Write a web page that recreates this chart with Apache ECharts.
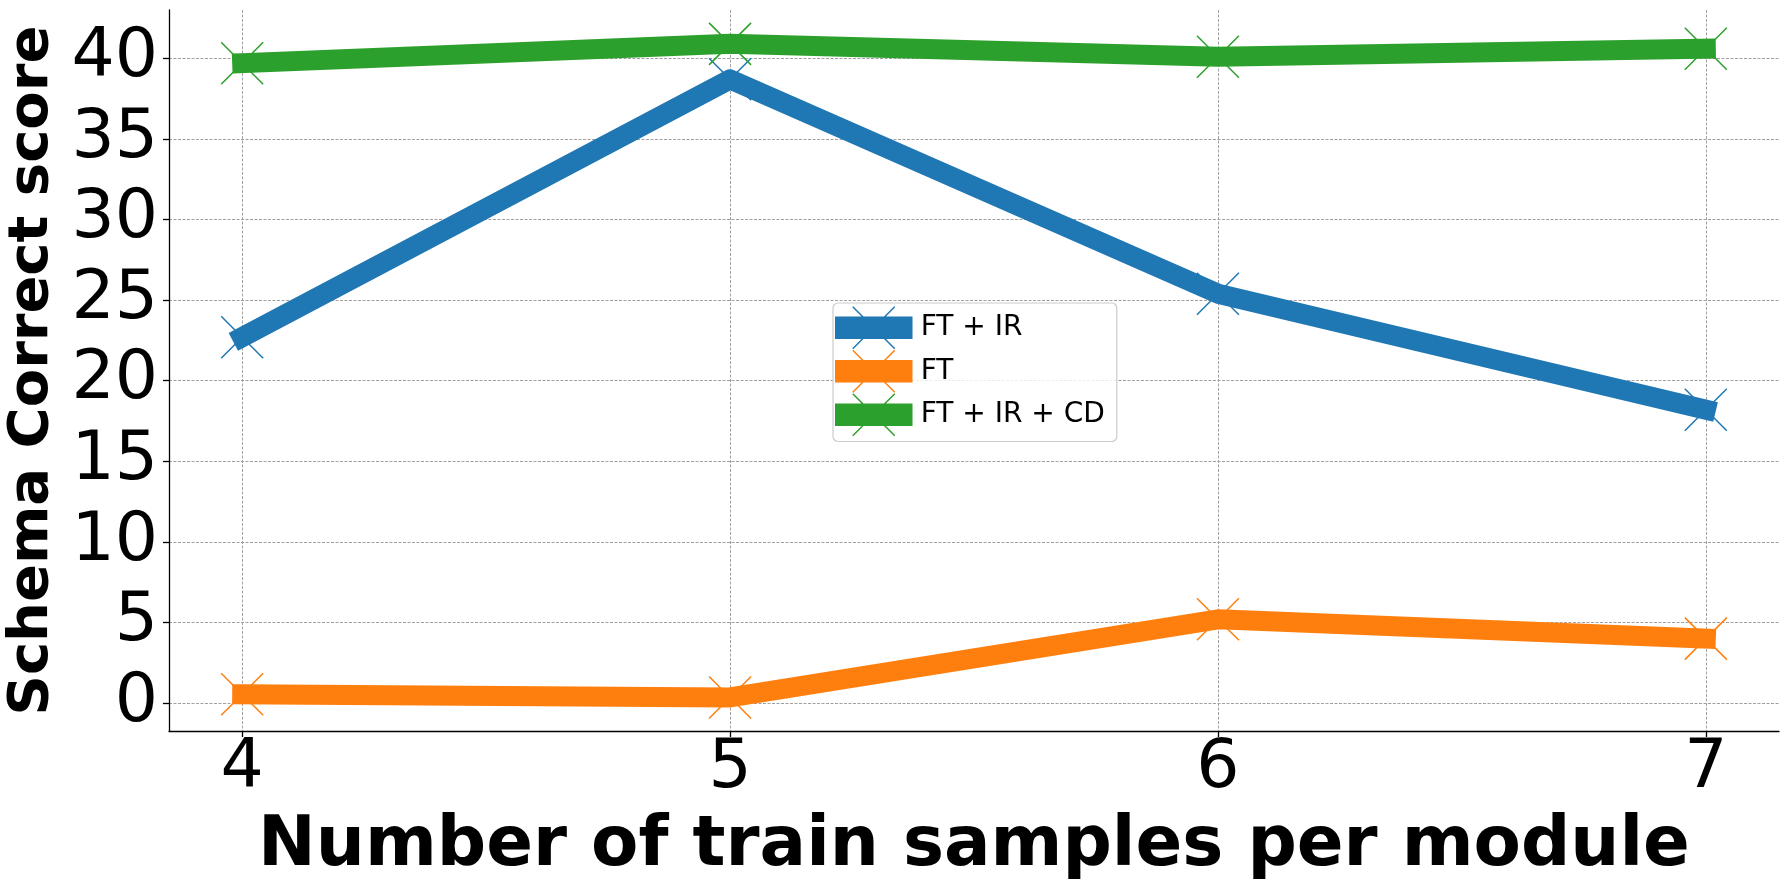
<!DOCTYPE html>
<html lang="en">
<head>
    <meta charset="UTF-8">
    <title>Schema Correct score</title>
    <script src="https://cdn.jsdelivr.net/npm/echarts@6/dist/echarts.min.js"></script>
    <style>
        html, body { margin: 0; padding: 0; background: #fff; }
        #main { width: 1790px; height: 890px; }
    </style>
</head>
<body>
<div id="main"></div>
<script>
    // values
    let samples = [4, 5, 6, 7];
    let seriesNames = ['FT + IR', 'FT', 'FT + IR + CD'];
    let ftIr = [22.7, 38.7, 25.4, 18.2];
    let ft = [0.55, 0.35, 5.2, 4.0];
    let ftIrCd = [39.7, 40.9, 40.1, 40.6];
    let yTicks = [0, 5, 10, 15, 20, 25, 30, 35, 40];
    let colors = ['#1f77b4', '#ff7f0e', '#2ca02c'];

    let font = 'DejaVu Sans';
    let xMark = 'path://M0,0L42,42M42,0L0,42';
    let legendIcon = 'path://M0,10.5L76,10.5L76,31.5L0,31.5Z M17,0L59,42M59,0L17,42';

    function makeSeries(name, values, color) {
        return {
            name: name,
            type: 'line',
            data: samples.map(function (x, i) { return [x, values[i]]; }),
            symbol: xMark,
            symbolSize: 42,
            showSymbol: true,
            lineStyle: { width: 20, color: color, cap: 'square', join: 'round' },
            itemStyle: { color: color, borderColor: color, borderWidth: 1.5 },
            emphasis: { disabled: true }
        };
    }

    let gridLine = { show: true, lineStyle: { color: '#a0a0a0', width: 1, type: [3, 1.5] } };

    let mychart = echarts.init(document.getElementById('main'));
    let option = {
        animation: false,
        backgroundColor: '#fff',
        grid: { left: 169, right: 11, top: 10, bottom: 159, containLabel: false, outerBoundsMode: 'none' },
        legend: {
            orient: 'vertical',
            left: 833,
            top: 303,
            icon: legendIcon,
            itemWidth: 76,
            itemHeight: 42,
            itemGap: 0,
            padding: [3, 12, 5, 2],
            backgroundColor: 'rgba(255,255,255,0.8)',
            borderColor: '#cccccc',
            borderWidth: 1.2,
            borderRadius: 5,
            textStyle: { fontFamily: font, fontSize: 28, color: '#000', padding: [0, 0, 0, 4] },
            data: seriesNames.map(function (n, i) {
                return { name: n, itemStyle: { color: colors[i], borderColor: colors[i], borderWidth: 1.5 } };
            })
        },
        xAxis: {
            type: 'value',
            min: 3.85,
            max: 7.15,
            name: 'Number of train samples per module',
            nameLocation: 'middle',
            nameGap: 82,
            nameTextStyle: { fontFamily: font, fontSize: 69, fontWeight: 'bold', color: '#000' },
            axisLine: { show: true, onZero: false, lineStyle: { color: '#000', width: 1.3 } },
            axisTick: { show: true, length: 6, customValues: samples, lineStyle: { color: '#000', width: 1.3 } },
            axisLabel: { customValues: samples, margin: 4, fontFamily: font, fontSize: 68, color: '#000' },
            splitLine: gridLine
        },
        yAxis: {
            type: 'value',
            min: -1.73,
            max: 43,
            name: 'Schema Correct score',
            nameLocation: 'middle',
            nameRotate: 90,
            nameGap: 99,
            nameTextStyle: { fontFamily: font, fontSize: 56, fontWeight: 'bold', color: '#000' },
            axisLine: { show: true, onZero: false, lineStyle: { color: '#000', width: 1.3 } },
            axisTick: { show: true, length: 6, customValues: yTicks, lineStyle: { color: '#000', width: 1.3 } },
            axisLabel: { customValues: yTicks, margin: 11, fontFamily: font, fontSize: 68, color: '#000' },
            splitLine: gridLine
        },
        series: [
            makeSeries(seriesNames[0], ftIr, colors[0]),
            makeSeries(seriesNames[1], ft, colors[1]),
            makeSeries(seriesNames[2], ftIrCd, colors[2])
        ]
    };
    mychart.setOption(option);
</script>
</body>
</html>
